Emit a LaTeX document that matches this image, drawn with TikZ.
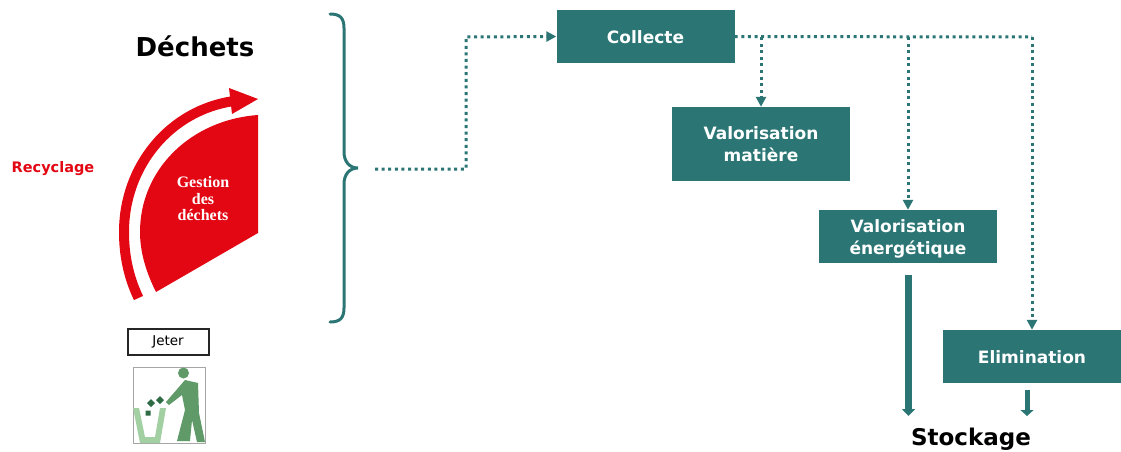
\documentclass[tikz,border=0pt]{standalone}
\usepackage{fontspec}
\setmainfont{DejaVu Sans}
\newfontfamily\serifb{Liberation Serif}
\usetikzlibrary{arrows.meta,calc}
\definecolor{teal1}{HTML}{2B7675}
\definecolor{red1}{HTML}{E30613}
\definecolor{gdark}{HTML}{5F9A68}
\definecolor{glight}{HTML}{A3D0A3}
\definecolor{dgreen}{HTML}{2F6B45}
\tikzset{
 tbox/.style={fill=teal1,draw=none,inner sep=0pt,minimum width=178pt},
 tlabel/.style={text=white,font=\fontsize{17}{22}\selectfont\bfseries,align=center,inner sep=0pt},
 dots/.style={draw=teal1,line width=3pt,dash pattern=on 3pt off 3.6pt},
 dotarrow/.style={dots,-{Triangle[length=10pt,width=10pt,fill=teal1,sep=0pt]}},
}
\begin{document}
\begin{tikzpicture}[x=1pt,y=-1pt]
\useasboundingbox (0,0) rectangle (1121,452);
% boxes
\node[tbox,minimum height=53pt,label={[tlabel,yshift=-1pt]center:Collecte}] (col) at (645.5,36.5) {};
\node[tbox,minimum height=74pt,label={[tlabel]center:Valorisation\\matière}] (mat) at (761,144) {};
\node[tbox,minimum height=53pt,label={[tlabel,yshift=-2.5pt]center:Valorisation\\énergétique}] (ene) at (908,236.5) {};
\node[tbox,minimum height=53pt,label={[tlabel,yshift=-1pt]center:Elimination}] (eli) at (1032,356.5) {};
\node[font=\fontsize{23}{26}\selectfont\bfseries] (sto) at (971,439) {Stockage};
\node[font=\fontsize{26}{30}\selectfont\bfseries] (dec) at (195,46) {Déchets};
\node[font=\fontsize{14.5}{16}\selectfont\bfseries,text=red1] (rec) at (53,169) {Recyclage};
% brace
\draw[teal1,line width=3pt,line cap=round] (330,14) .. controls (340,14) and (344,18) .. (344,28)
  -- (344,152) .. controls (344,161) and (349,168) .. (358,168)
  .. controls (349,168) and (344,175) .. (344,184) -- (344,308)
  .. controls (344,318) and (340,322) .. (330,322);
\coordinate (bs) at (375,169);
\coordinate (b1) at (761,37);
\coordinate (b2) at (908,37);
\coordinate (b3) at (1032,37);
% connectors
\draw[dotarrow] (bs) -- (466,169) -- (466,37) -- (col.west);
\draw[dots] (col.east) -- (b3);
\draw[dotarrow] (b1) -- (mat.north);
\draw[dotarrow] (b2) -- (ene.north);
\draw[dotarrow] (b3) -- (eli.north);
\coordinate (s1) at (908.5,416);
\coordinate (s2) at (1027,416);
\draw[draw=teal1,line width=7pt,-{Triangle[length=7pt,width=13pt]}] ($(ene.south)+(0.5,12)$) -- (s1);
\draw[draw=teal1,line width=5pt,-{Triangle[length=6pt,width=13pt]}] (1027,390) -- (s2);
% red shape
\fill[red1] (258,115) -- (258,233) -- (156,292)
  .. controls (146,272) and (140,252) .. (140,232)
  .. controls (140,170) and (190,120) .. (258,115) -- cycle;
\draw[red1,line width=10pt] (138.5,298)
  .. controls (128,276) and (124,254) .. (124,232)
  .. controls (124,166) and (170,110) .. (234,101);
\fill[red1] (258,99) -- (229,88) -- (232,114) -- cycle;
\node[font=\serifb\fontsize{16}{16.5}\selectfont\bfseries,text=white,align=center] (ges) at (203,199) {Gestion\\des\\déchets};
% Jeter
\node[draw=black!85,line width=2pt,minimum width=81pt,minimum height=26pt,inner sep=0pt,font=\fontsize{13.5}{15}\selectfont] (jet) at (168,341.5) {Jeter};
% icon
\draw[gray!70,line width=1pt,fill=white] (133,367) rectangle (205,443);
\fill[gdark] (183.5,373) circle (5.5);
\fill[gdark] (185,380) -- (198,383) -- (199,413) -- (205,442) -- (197,442) -- (192,420) -- (190,441) -- (177,441) -- (185,410) -- (182,395) -- (169,405) -- (166,402) -- cycle;
\fill[glight] (133,408) -- (139,408) -- (145,437) -- (155,437) -- (160,408) -- (166,408) -- (160,443) -- (140,443) -- cycle;
\fill[dgreen] (151,399) -- (155,403) -- (151,407) -- (147,403) -- cycle
  (160,396) -- (164,400) -- (160,404) -- (156,400) -- cycle
  (145.5,410.5) rectangle (150.5,415.5);
\end{tikzpicture}
\end{document}
